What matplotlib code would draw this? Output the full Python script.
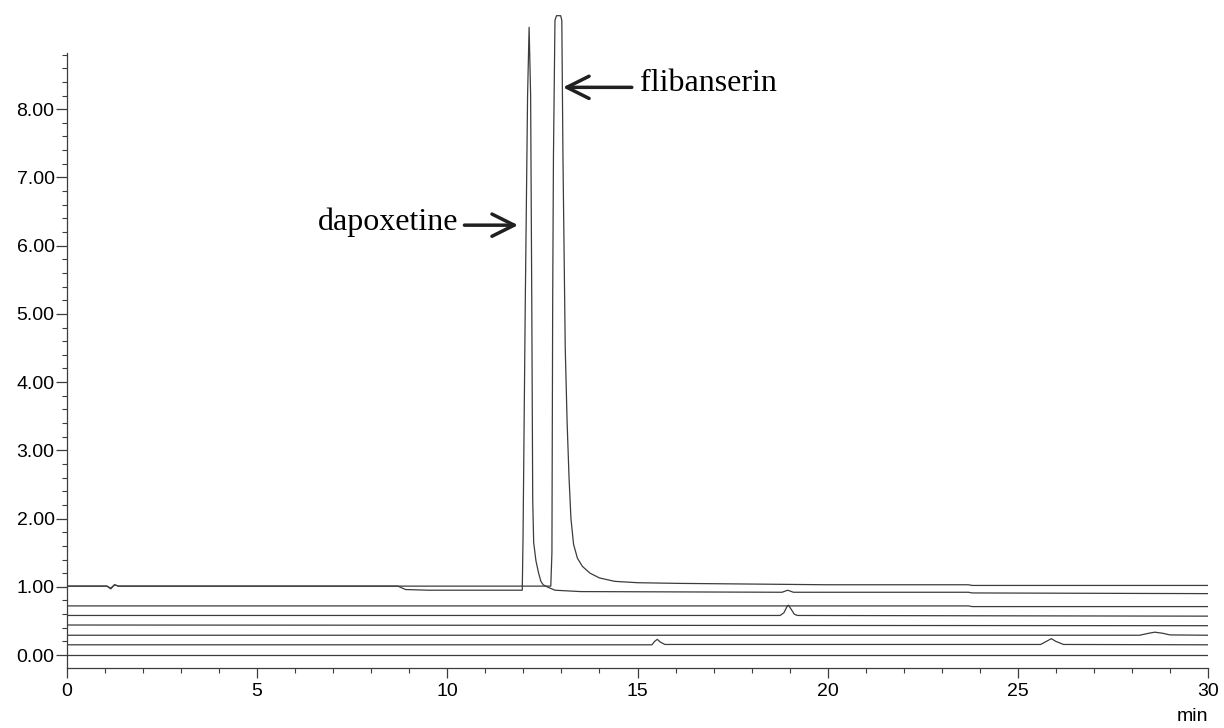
import numpy as np
import matplotlib.pyplot as plt

# chromatogram traces (time in min, response)
dapox_t = [0, 1.05, 1.15, 1.25, 1.35, 1.5, 8.7, 8.9, 9.5, 11.97, 11.99, 12.05, 12.11, 12.15,
           12.19, 12.22, 12.245, 12.27, 12.33, 12.4, 12.46, 12.52, 12.62, 12.83, 13.5, 18.8,
           18.95, 19.1, 23.7, 23.8, 30]
dapox_v = [1.01, 1.01, 0.97, 1.03, 1.01, 1.01, 1.01, 0.96, 0.95, 0.95, 1.7, 5.2, 8.2, 9.2,
           8.2, 5.2, 2.27, 1.65, 1.38, 1.2, 1.08, 1.03, 1.0, 0.95, 0.93, 0.92,
           0.95, 0.92, 0.92, 0.91, 0.90]

flib_t = [0, 1.05, 1.15, 1.25, 1.35, 1.5, 12.72, 12.75, 12.77, 12.79, 12.83, 12.87, 12.98,
          13.01, 13.04, 13.1, 13.15, 13.2, 13.25, 13.32, 13.42, 13.55, 13.75, 14.0, 14.4,
          15.0, 16.1, 20, 23.7, 23.8, 30]
flib_v = [1.01, 1.01, 0.98, 1.03, 1.01, 1.01, 1.01, 1.5, 5.2, 7.3, 9.3, 9.37, 9.37,
          9.3, 7.3, 4.5, 3.4, 2.6, 2.0, 1.62, 1.42, 1.3, 1.2, 1.13, 1.08,
          1.06, 1.05, 1.03, 1.03, 1.02, 1.02]

blankA_t = [0, 23.7, 23.8, 30]
blankA_v = [0.72, 0.72, 0.71, 0.71]
blankB_t = [0, 18.75, 18.85, 18.93, 18.97, 19.03, 19.12, 19.2, 30]
blankB_v = [0.58, 0.58, 0.62, 0.71, 0.73, 0.68, 0.6, 0.58, 0.57]
blankC_t = [0, 30]
blankC_v = [0.44, 0.43]
blankD_t = [0, 28.2, 28.45, 28.6, 28.8, 29.0, 30]
blankD_v = [0.29, 0.29, 0.32, 0.335, 0.32, 0.295, 0.29]
blankE_t = [0, 15.38, 15.45, 15.52, 15.6, 15.72, 25.6, 25.75, 25.88, 26.0, 26.2, 30]
blankE_v = [0.15, 0.15, 0.2, 0.23, 0.19, 0.155, 0.155, 0.2, 0.24, 0.2, 0.155, 0.15]
blankF_t = [0, 30]
blankF_v = [0.0, 0.0]

traces = [(dapox_t, dapox_v), (flib_t, flib_v), (blankA_t, blankA_v), (blankB_t, blankB_v),
          (blankC_t, blankC_v), (blankD_t, blankD_v), (blankE_t, blankE_v), (blankF_t, blankF_v)]

fig = plt.figure(figsize=(12.24, 7.28), dpi=100)
ax = fig.add_axes([67 / 1224, 60 / 728, 1141 / 1224, 668 / 728])

line_col = '#3c3c3c'
for t, v in traces:
    ax.plot(t, v, color=line_col, lw=0.9)

ax.set_xlim(0, 30)
ax.set_ylim(-0.19, 9.6)

for s in ['top', 'right']:
    ax.spines[s].set_visible(False)
ax.spines['left'].set_bounds(-0.19, 8.82)
ax.spines['left'].set_color(line_col)
ax.spines['bottom'].set_color(line_col)
ax.spines['left'].set_linewidth(0.9)
ax.spines['bottom'].set_linewidth(0.9)

ax.set_xticks(np.arange(0, 31, 5))
ax.set_xticks(np.arange(0, 31, 1), minor=True)
ax.set_yticks(np.arange(0, 9, 1))
ax.set_yticks(np.arange(0, 8.81, 0.2), minor=True)
ax.set_yticklabels(['%.2f' % y for y in np.arange(0, 9, 1)])

ax.tick_params(axis='x', which='major', length=7, width=0.9, pad=4, color=line_col)
ax.tick_params(axis='x', which='minor', length=3.5, width=0.8, color=line_col)
ax.tick_params(axis='y', which='major', length=8, width=0.9, pad=1, color=line_col)
ax.tick_params(axis='y', which='minor', length=3.5, width=0.8, color=line_col)
for lab in ax.get_xticklabels() + ax.get_yticklabels():
    lab.set_fontfamily('Liberation Sans')
    lab.set_fontsize(14)

ax.text(30, -0.97, 'min', ha='right', va='baseline', fontsize=14,
        family='Liberation Sans', clip_on=False)

# peak labels
ax.annotate('', xy=(11.86, 6.30), xytext=(10.45, 6.30),
            arrowprops=dict(arrowstyle='->,head_length=0.8,head_width=0.4',
                            lw=2.5, color='#202020', mutation_scale=20,
                            shrinkA=0, shrinkB=0))
ax.text(10.30, 6.34, 'dapoxetine', ha='right', va='center', fontsize=23,
        family='Liberation Serif')

ax.annotate('', xy=(13.04, 8.32), xytext=(14.85, 8.32),
            arrowprops=dict(arrowstyle='->,head_length=0.8,head_width=0.4',
                            lw=2.5, color='#202020', mutation_scale=20,
                            shrinkA=0, shrinkB=0))
ax.text(15.06, 8.37, 'flibanserin', ha='left', va='center', fontsize=23,
        family='Liberation Serif')

fig.savefig('out.png', dpi=100)
